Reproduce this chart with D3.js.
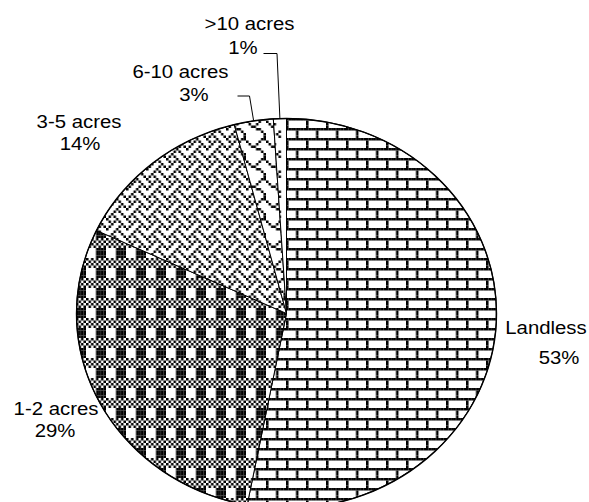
<!DOCTYPE html>
<html><head><meta charset="utf-8">
<script src="https://cdn.jsdelivr.net/npm/d3@7"></script>
<style>html,body{margin:0;padding:0;background:#fff;} svg{display:block}</style>
</head><body>
<svg id="chart" width="589" height="502"></svg>
<script>
// Land holding shares
const categories = ["Landless", "1-2 acres", "3-5 acres", "6-10 acres", ">10 acres"];
const shares = [53, 29, 14, 3, 1];
const shareLabels = ["53%", "29%", "14%", "3%", "1%"];

// 8x8 hatch bitmaps, one byte per row, high bit on the left
const hatchBrick   = [0xff,0x80,0x80,0x80,0xff,0x08,0x08,0x08];
const hatchPlaid   = [0xaa,0x55,0xaa,0x55,0x0f,0x0f,0x0f,0x0f];
const hatchWeave   = [0x88,0x54,0x22,0x45,0x88,0x14,0x22,0x51];
const hatchShingle = [0x03,0x84,0x48,0x30,0x0c,0x02,0x01,0x01];
const hatchDivot   = [0x00,0x20,0x10,0x20,0x00,0x04,0x08,0x04];
const sliceHatches = [hatchBrick, hatchPlaid, hatchWeave, hatchShingle, hatchDivot];

// layout
const cx = 286.5, cy = 313.5, rx = 210, ry = 195;
const cell = 2.5, tile = cell * 8;
const hatchOffset = [-0.5, 4.5];
const labelPos = [
  {name: [546, 333.5], pct: [559, 363.5]},
  {name: [56, 414.5],  pct: [55, 437]},
  {name: [79, 127.5],  pct: [80, 150]},
  {name: [180.5, 77.5], pct: [194, 101]},
  {name: [249.5, 29.5], pct: [243, 53.5]}
];
const leaderPos = [null, null, null,
  {from: [237.5, 96], elbow: [249.5, 96]},
  {from: [263.5, 53.5], elbow: [277, 53.5]}
];

const svg = d3.select("#chart");
svg.append("rect").attr("width", 589).attr("height", 502).attr("fill", "#fff");

const defs = svg.append("defs");
defs.append("filter").attr("id", "soft")
  .attr("filterUnits", "userSpaceOnUse")
  .attr("x", -10).attr("y", -10).attr("width", tile + 20).attr("height", tile + 20)
  .append("feGaussianBlur").attr("stdDeviation", 0.3);

sliceHatches.forEach((bits, i) => {
  const p = defs.append("pattern")
    .attr("id", "hatch" + i)
    .attr("patternUnits", "userSpaceOnUse")
    .attr("width", tile).attr("height", tile)
    .attr("patternTransform", `scale(${ry / rx},1) translate(${hatchOffset[0]},${hatchOffset[1]})`);
  p.append("rect").attr("width", tile).attr("height", tile).attr("fill", "#fff");
  const g = p.append("g").attr("filter", "url(#soft)");
  const cells = [];
  for (let r = -1; r <= 8; r++) {
    for (let c = -1; c <= 8; c++) {
      const row = bits[(r + 8) % 8], col = (c + 8) % 8;
      if (row & (0x80 >> col)) cells.push([c, r]);
    }
  }
  // pattern tile is 8 bitmap pixels of `cell` size each
  g.selectAll("rect").data(cells).join("rect")
    .attr("x", d => d[0] * cell).attr("y", d => d[1] * cell)
    .attr("width", cell).attr("height", cell).attr("fill", "#000");
});

const pie = d3.pie().sort(null).value(d => d)(shares);
const arc = d3.arc().innerRadius(0).outerRadius(ry);

const pieG = svg.append("g").attr("transform", `translate(${cx},${cy}) scale(${rx / ry},1)`);
pieG.selectAll("path.slice").data(pie).join("path")
  .attr("class", "slice")
  .attr("d", arc)
  .attr("fill", (d, i) => `url(#hatch${i})`)
  .attr("stroke", "#000").attr("stroke-width", 1)
  .attr("stroke-linejoin", "round")
  .attr("vector-effect", "non-scaling-stroke");
pieG.append("ellipse").attr("rx", ry).attr("ry", ry)
  .attr("fill", "none").attr("stroke", "#000").attr("stroke-width", 1.4)
  .attr("vector-effect", "non-scaling-stroke");

// point on the rim at a slice's middle angle
function rimPoint(d) {
  const a = (d.startAngle + d.endAngle) / 2;
  return [cx + rx * Math.sin(a), cy - ry * Math.cos(a)];
}

const lineGen = d3.line();
pie.forEach((d, i) => {
  const L = leaderPos[i];
  if (!L) return;
  svg.append("path")
    .attr("d", lineGen([L.from, L.elbow, rimPoint(d)]))
    .attr("fill", "none").attr("stroke", "#000").attr("stroke-width", 1);
});

const font = "'Liberation Sans', Arial, sans-serif";
function label(txt, pos) {
  svg.append("text")
    .attr("transform", `translate(${pos[0]},${pos[1]}) scale(1.1,1)`)
    .attr("text-anchor", "middle")
    .attr("font-family", font).attr("font-size", 18.5).attr("fill", "#000")
    .text(txt);
}
categories.forEach((c, i) => {
  label(c, labelPos[i].name);
  label(shareLabels[i], labelPos[i].pct);
});
</script>
</body></html>
